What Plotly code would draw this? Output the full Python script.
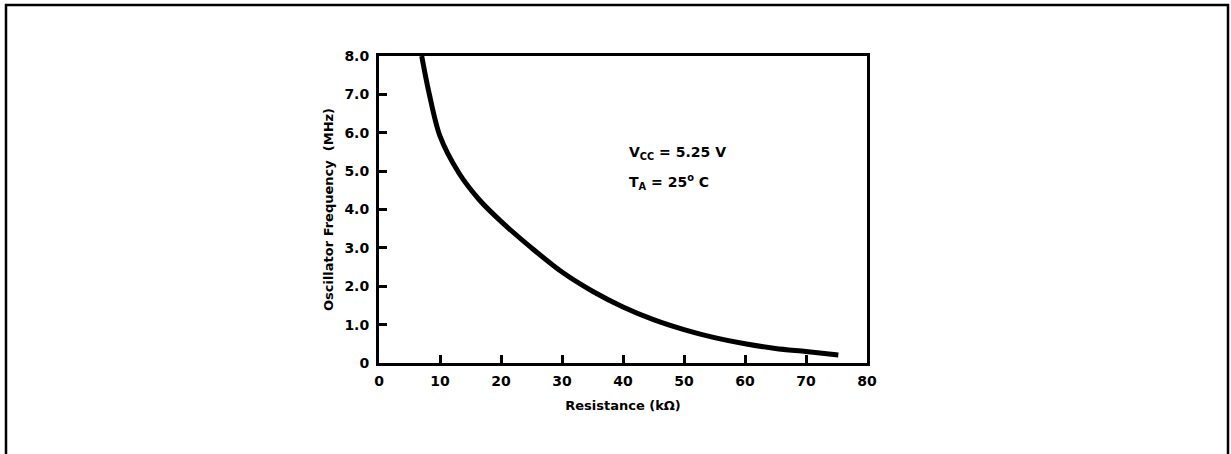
import plotly.graph_objects as go

resistance_kohm = [7.0, 8.2, 10.0, 13.1, 16.4, 20.0, 25.0, 30, 35, 40, 45, 50, 55, 60, 65, 70, 75.3]
frequency_mhz = [8.0, 7.04, 5.91, 4.95, 4.26, 3.69, 3.0, 2.37, 1.87, 1.46, 1.13, 0.87, 0.66, 0.50, 0.38, 0.30, 0.21]

x_tick_vals = [0, 10, 20, 30, 40, 50, 60, 70, 80]
x_tick_text = ["0", "10", "20", "30", "40", "50", "60", "70", "80"]
y_tick_vals = [0, 1, 2, 3, 4, 5, 6, 7, 8]
y_tick_text = ["0", "1.0", "2.0", "3.0", "4.0", "5.0", "6.0", "7.0", "8.0"]

FONT = "DejaVu Sans, Liberation Sans, Arial, sans-serif"

fig = go.Figure()
fig.add_trace(go.Scatter(
    x=resistance_kohm, y=frequency_mhz, mode="lines",
    line=dict(color="black", width=5, shape="spline", smoothing=0.9),
    hoverinfo="skip", showlegend=False,
))

axis_common = dict(
    showline=True, linecolor="black", linewidth=3, mirror=True,
    ticks="inside", ticklen=8, tickwidth=2.5, tickcolor="black",
    showgrid=False, zeroline=False,
    tickfont=dict(family=FONT, size=14, color="black", weight="bold"),
)

fig.update_layout(
    width=1231, height=454,
    margin=dict(l=379, r=364, t=56, b=91),
    paper_bgcolor="white", plot_bgcolor="white",
    xaxis=dict(range=[0, 80], tickvals=x_tick_vals, ticktext=x_tick_text,
               ticklabelstandoff=3,
               title=dict(text="Resistance (kΩ)", standoff=14,
                          font=dict(family=FONT, size=13, color="black", weight="bold")),
               **axis_common),
    yaxis=dict(range=[0, 8], tickvals=y_tick_vals, ticktext=y_tick_text,
               ticklabelstandoff=4,
               title=dict(text="Oscillator Frequency  (MHz)", standoff=8,
                          font=dict(family=FONT, size=13, color="black", weight="bold")),
               **axis_common),
    annotations=[
        dict(xref="paper", yref="paper", x=(627 - 379) / 488, y=(363 - 153) / 307,
             xanchor="left", yanchor="middle", showarrow=False,
             text="<b>V<sub>CC</sub> = 5.25 V</b>",
             font=dict(family=FONT, size=14, color="black")),
        dict(xref="paper", yref="paper", x=(627 - 379) / 488, y=(363 - 182) / 307,
             xanchor="left", yanchor="middle", showarrow=False,
             text="<b>T<sub>A</sub> = 25<sup>o</sup> C</b>",
             font=dict(family=FONT, size=14, color="black")),
    ],
    shapes=[
        dict(type="path", xref="paper", yref="paper",
             path="M {l},{b} L {l},{t} L {r},{t} L {r},{b}".format(
                 l=(6 - 379) / 488, r=(1228 - 379) / 488,
                 t=(363 - 5) / 307, b=(363 - 460) / 307),
             line=dict(color="black", width=2.5)),
    ],
)

fig.write_html(
    "out.html",
    config={"displayModeBar": False},
    post_script="document.body.style.margin='0';document.body.style.overflow='hidden';",
)
